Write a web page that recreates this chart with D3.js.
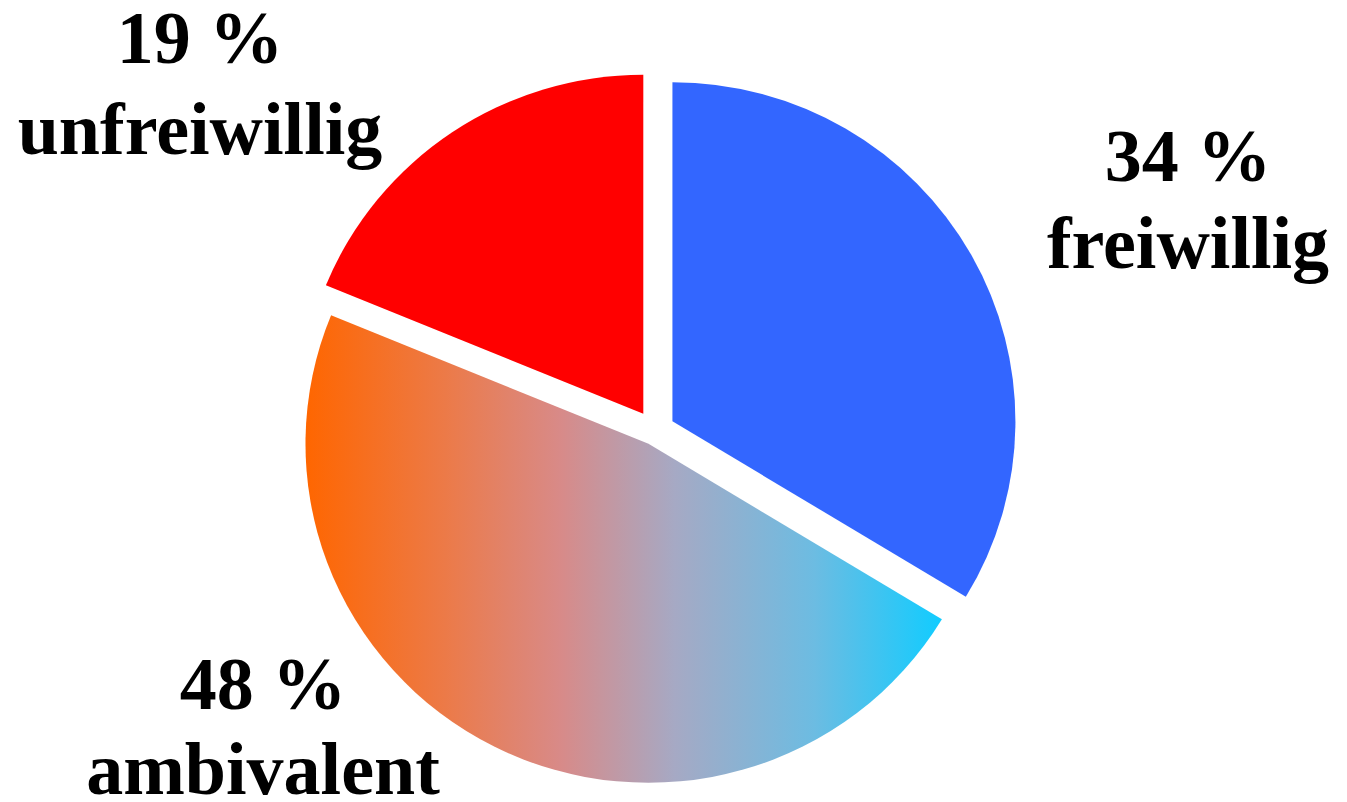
<!DOCTYPE html>
<html lang="de">
<head>
<meta charset="utf-8">
<title>Freiwilligkeit</title>
<script src="https://cdn.jsdelivr.net/npm/d3@7"></script>
<style>
  html, body { margin: 0; padding: 0; background: #ffffff; }
  svg { display: block; }
  .label { font-family: "Liberation Serif", "Times New Roman", serif; font-weight: bold; font-size: 74px; fill: #000; }
</style>
</head>
<body>
<svg id="chart" width="1347" height="802"></svg>
<script>
// Anteile (Prozent) in Zeichenreihenfolge, beginnend bei 12 Uhr im Uhrzeigersinn
const categories = ["freiwillig", "ambivalent", "unfreiwillig"];
const shares = [34, 48, 19];
const shareLabels = ["34 %", "48 %", "19 %"];

// Darstellung
const width = 1347, height = 802;
const center = { x: 655, y: 431 };
const radiusX = 343, radiusY = 339;
const explode = { freiwillig: 20, ambivalent: 14.5, unfreiwillig: 21 };
const labelPos = {
  freiwillig:   { x: 1188, y1: 181, y2: 268 },
  ambivalent:   { x: 263,  y1: 709, y2: 794 },
  unfreiwillig: { x: 200,  y1: 63,  y2: 154 }
};

const svg = d3.select("#chart");

// Farbverlauf für den ambivalenten Anteil (orange -> cyan)
const defs = svg.append("defs");
const grad = defs.append("linearGradient")
  .attr("id", "ambiGrad")
  .attr("x1", "0%").attr("y1", "0%")
  .attr("x2", "100%").attr("y2", "0%");
grad.append("stop").attr("offset", "0%").attr("stop-color", "#ff6600");
grad.append("stop").attr("offset", "22%").attr("stop-color", "#ec7a48");
grad.append("stop").attr("offset", "40%").attr("stop-color", "#d88a88");
grad.append("stop").attr("offset", "58%").attr("stop-color", "#a6a9c4");
grad.append("stop").attr("offset", "80%").attr("stop-color", "#6cbce2");
grad.append("stop").attr("offset", "100%").attr("stop-color", "#11ccff");

const fills = d3.scaleOrdinal()
  .domain(categories)
  .range(["#3366ff", "url(#ambiGrad)", "#ff0000"]);

const data = categories.map((c, i) => ({ category: c, value: shares[i], label: shareLabels[i] }));

const pie = d3.pie()
  .sort(null)
  .value(d => d.value)
  .startAngle(0)
  .endAngle(2 * Math.PI);

const arc = d3.arc().innerRadius(0).outerRadius(radiusX);

const g = svg.append("g")
  .attr("transform", `translate(${center.x},${center.y}) scale(1,${radiusY / radiusX})`);

g.selectAll("path.slice")
  .data(pie(data))
  .join("path")
  .attr("class", "slice")
  .attr("d", arc)
  .attr("fill", d => fills(d.data.category))
  .attr("transform", d => {
    const mid = (d.startAngle + d.endAngle) / 2;
    const off = explode[d.data.category];
    return `translate(${Math.sin(mid) * off},${-Math.cos(mid) * off})`;
  });

// Beschriftungen: Prozentwert und Kategorie
const labels = svg.selectAll("text.label")
  .data(data)
  .join("text")
  .attr("class", "label")
  .attr("text-anchor", "middle");

labels.append("tspan")
  .attr("x", d => labelPos[d.category].x)
  .attr("y", d => labelPos[d.category].y1)
  .text(d => d.label);

labels.append("tspan")
  .attr("x", d => labelPos[d.category].x)
  .attr("y", d => labelPos[d.category].y2)
  .text(d => d.category);
</script>
</body>
</html>
